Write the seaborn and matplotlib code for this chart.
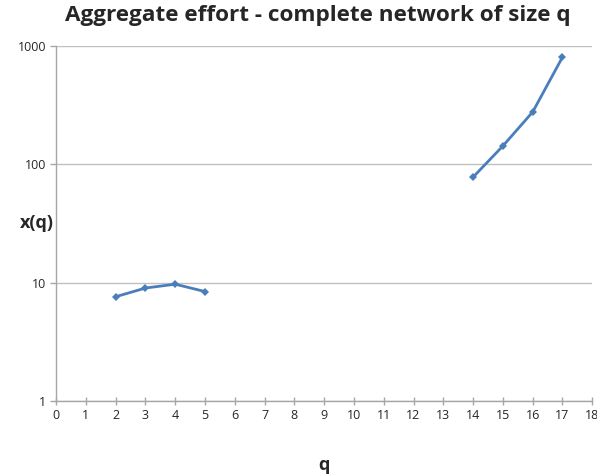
import pandas as pd
import seaborn as sns
import matplotlib.pyplot as plt
from matplotlib.ticker import FixedLocator, FixedFormatter

q_low = [2, 3, 4, 5]
x_low = [7.6, 9.0, 9.7, 8.4]
q_high = [14, 15, 16, 17]
x_high = [78, 143, 277, 805]

df = pd.DataFrame({
    'q': q_low + q_high,
    'x': x_low + x_high,
    'segment': ['low'] * len(q_low) + ['high'] * len(q_high),
})

sns.set_style('white')
plt.rcParams['font.family'] = ['Open Sans', 'DejaVu Sans']

fig = plt.figure(figsize=(5.97, 4.75), dpi=100)
ax = fig.add_axes([0.094, 0.156, 0.898, 0.747])

sns.lineplot(data=df, x='q', y='x', units='segment', estimator=None,
             color='#4a7ebb', linewidth=2, marker='D', markersize=4,
             markeredgewidth=0, ax=ax)

ax.set_yscale('log')
ax.set_ylim(1, 1000)
ax.set_xlim(0, 18)
ax.xaxis.set_major_locator(FixedLocator(range(0, 19)))
ax.yaxis.set_major_locator(FixedLocator([1, 10, 100, 1000]))
ax.yaxis.set_major_formatter(FixedFormatter(['1', '10', '100', '1000']))
ax.yaxis.set_minor_locator(FixedLocator([]))
ax.grid(axis='y', color='#c0c0c0', linewidth=1)
ax.set_axisbelow(True)

for s in ['top', 'right']:
    ax.spines[s].set_visible(False)
for s in ['left', 'bottom']:
    ax.spines[s].set_color('#a6a6a6')
    ax.spines[s].set_linewidth(1)

ax.tick_params(axis='both', which='major', labelsize=9, length=4, width=1,
               color='#a6a6a6', direction='out', pad=3, bottom=True, left=True)
ax.tick_params(axis='x', direction='inout', length=6)

ax.set_xlabel('q', fontsize=13, fontweight='bold', labelpad=24)
ax.set_ylabel('x(q)', fontsize=13, fontweight='bold', rotation=0, labelpad=0)
ax.yaxis.set_label_coords(-0.035, 0.475)

fig.suptitle('Aggregate effort - complete network of size q', fontsize=16.2,
             fontweight='bold', x=0.533, y=0.99)

fig.savefig('out.png', dpi=100)
